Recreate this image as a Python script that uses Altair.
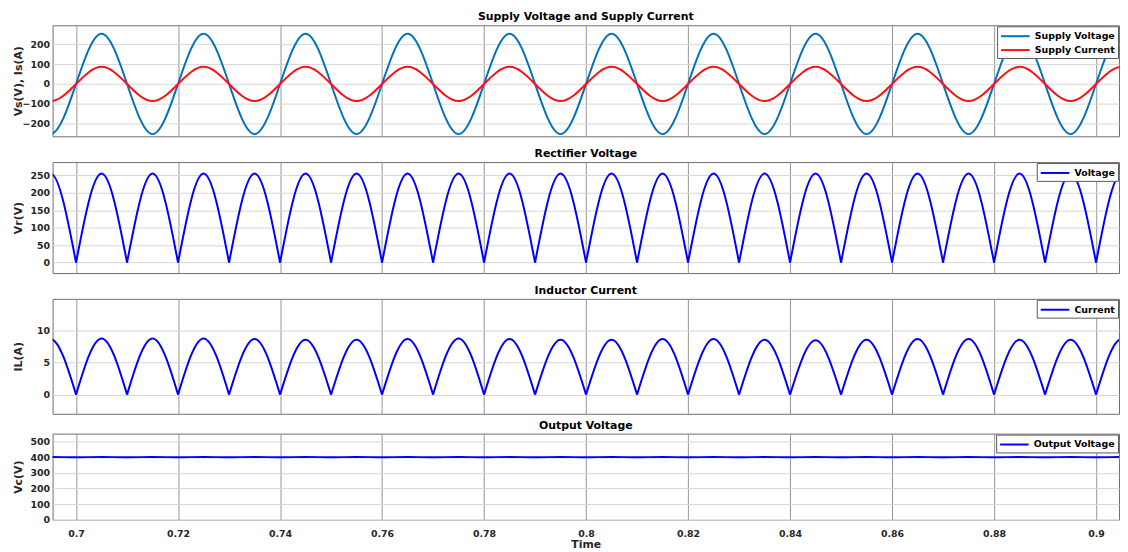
import altair as alt
import pandas as pd

# ---------------- data ----------------
x_domain = [0.6954, 0.9045]
x_ticks = [0.70, 0.72, 0.74, 0.76, 0.78, 0.80, 0.82, 0.84, 0.86, 0.88, 0.90]

# zero crossings and half-cycle peak instants (s)
zero_times = [0.69, 0.70, 0.71, 0.72, 0.73, 0.74, 0.75, 0.76, 0.77, 0.78, 0.79, 0.80,
              0.81, 0.82, 0.83, 0.84, 0.85, 0.86, 0.87, 0.88, 0.89, 0.90, 0.91]
peak_times = [0.695, 0.705, 0.715, 0.725, 0.735, 0.745, 0.755, 0.765, 0.775, 0.785, 0.795,
              0.805, 0.815, 0.825, 0.835, 0.845, 0.855, 0.865, 0.875, 0.885, 0.895, 0.905]

supply_voltage_peaks = [-255, 255, -255, 255, -255, 255, -255, 255, -255, 255, -255,
                        255, -255, 255, -255, 255, -255, 255, -255, 255, -255, 255]
supply_current_peaks = [-87, 87, -87, 87, -87, 87, -87, 87, -87, 87, -87,
                        87, -87, 87, -87, 87, -87, 87, -87, 87, -87, 87]
rectifier_voltage_peaks = [255, 255, 255, 255, 255, 255, 255, 255, 255, 255, 255,
                           255, 255, 255, 255, 255, 255, 255, 255, 255, 255, 255]
inductor_current_peaks = [8.7, 8.8, 8.8, 8.8, 8.7, 8.6, 8.6, 8.7, 8.8, 8.7, 8.6,
                          8.6, 8.7, 8.7, 8.6, 8.5, 8.6, 8.7, 8.7, 8.6, 8.6, 8.7]

output_times = [0.690, 0.695, 0.700, 0.705, 0.710, 0.715, 0.720, 0.725, 0.730, 0.735,
                0.740, 0.745, 0.750, 0.755, 0.760, 0.765, 0.770, 0.775, 0.780, 0.785,
                0.790, 0.795, 0.800, 0.805, 0.810, 0.815, 0.820, 0.825, 0.830, 0.835,
                0.840, 0.845, 0.850, 0.855, 0.860, 0.865, 0.870, 0.875, 0.880, 0.885,
                0.890, 0.895, 0.900, 0.905, 0.910]
output_voltage = [399, 401, 399, 401, 399, 401, 399, 401, 399, 401,
                  399, 401, 399, 401, 399, 401, 399, 401, 399, 401,
                  399, 401, 399, 401, 399, 401, 399, 401, 399, 401,
                  399, 401, 399, 401, 399, 401, 399, 401, 399, 401,
                  399, 401, 399, 401, 399]


def half_cycles(peaks, series):
    rows = []
    for i, p in enumerate(peaks):
        rows.append({"t": zero_times[i], "v": 0, "seg": i, "s": series})
        rows.append({"t": peak_times[i], "v": p, "seg": i, "s": series})
        rows.append({"t": zero_times[i + 1], "v": 0, "seg": i, "s": series})
    return rows


supply_df = pd.DataFrame(half_cycles(supply_voltage_peaks, "Supply Voltage")
                         + half_cycles(supply_current_peaks, "Supply Current"))
rect_df = pd.DataFrame(half_cycles(rectifier_voltage_peaks, "Voltage"))
ind_df = pd.DataFrame(half_cycles(inductor_current_peaks, "Current"))
out_df = pd.DataFrame({"t": output_times, "v": output_voltage, "seg": 0, "s": "Output Voltage"})

W = 1076
FONT = "DejaVu Sans"


def xenc(bottom=False):
    if bottom:
        ax = alt.Axis(values=x_ticks, format=".2~f", title="Time", labelPadding=9,
                      titlePadding=0, grid=True)
    else:
        ax = alt.Axis(values=x_ticks, labels=False, title=None, grid=True)
    return alt.X("t:Q", scale=alt.Scale(domain=x_domain, nice=False, zero=False), axis=ax)


def legend():
    return alt.Legend(title=None, orient="top-right", offset=1)


def panel(df, title, ytitle, ydomain, yticks, names, colors, height, bottom=False):
    return alt.Chart(df).mark_line(interpolate="monotone", strokeWidth=2, clip=True).encode(
        x=xenc(bottom),
        y=alt.Y("v:Q", scale=alt.Scale(domain=ydomain, nice=False, zero=False),
                axis=alt.Axis(values=yticks, title=ytitle)),
        color=alt.Color("s:N", scale=alt.Scale(domain=names, range=colors), legend=legend()),
        detail="seg:N",
    ).properties(width=W, height=height, title=title)


p1 = panel(supply_df, "Supply Voltage and Supply Current", "Vs(V), Is(A)", [-266, 298],
           [-200, -100, 0, 100, 200], ["Supply Voltage", "Supply Current"],
           ["#0072BD", "#FF1010"], 112)
p2 = panel(rect_df, "Rectifier Voltage", "Vr(V)", [-30, 288], [0, 50, 100, 150, 200, 250],
           ["Voltage"], ["#0000FF"], 112)
p3 = panel(ind_df, "Inductor Current", "IL(A)", [-3, 15], [0, 5, 10],
           ["Current"], ["#0000FF"], 116)
p4 = panel(out_df, "Output Voltage", "Vc(V)", [0, 550], [0, 100, 200, 300, 400, 500],
           ["Output Voltage"], ["#0000FF"], 87, bottom=True)

top = alt.vconcat(p1, p2, p3, spacing=10).resolve_scale(color="independent")
chart = alt.vconcat(top, p4, spacing=4).resolve_scale(color="independent").properties(
    padding={"left": 4, "top": 0, "right": 0, "bottom": 0}
).configure_view(
    stroke="#6e6e6e", strokeWidth=1
).configure_axis(
    domain=False, ticks=False, labelFont=FONT, labelFontWeight="bold", labelFontSize=9.5,
    labelColor="#262626", titleFont=FONT, titleFontWeight="bold", titleFontSize=11,
    titleColor="#262626", gridWidth=1
).configure_axisX(
    gridColor="#959595"
).configure_axisY(
    gridColor="#d6d6d6", minExtent=28, maxExtent=28, titlePadding=1, labelPadding=3
).configure_title(
    font=FONT, fontSize=11, fontWeight="bold", color="black", offset=3
).configure_legend(
    fillColor="white", strokeColor="#5a5a5a", padding=3, rowPadding=2, cornerRadius=0,
    symbolType="M-1,0H3.8", symbolSize=144, symbolStrokeWidth=2, labelFont=FONT,
    labelFontWeight="bold", labelFontSize=9.5, labelColor="black", labelOffset=21
)

chart.save("out.html", embed_options={"renderer": "svg", "actions": False})
